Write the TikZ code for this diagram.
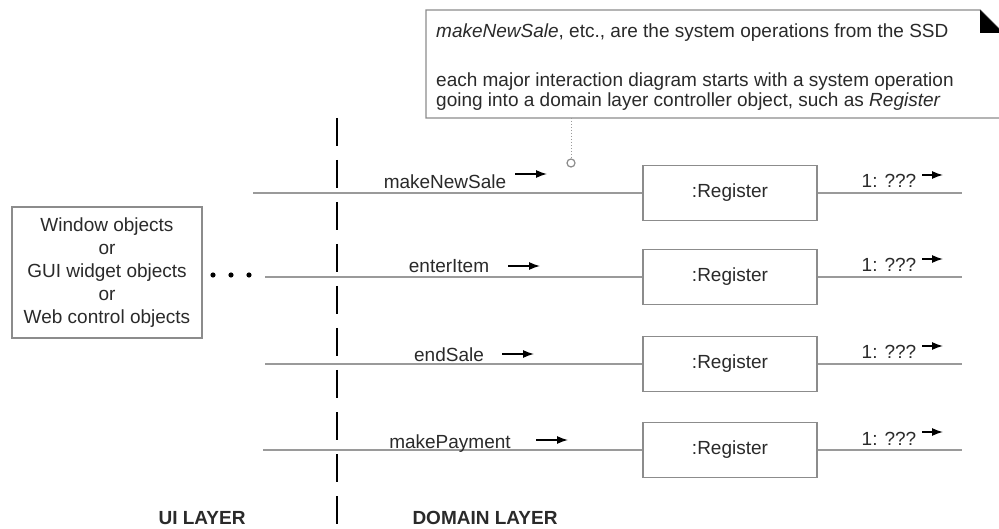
\documentclass[tikz,border=0pt]{standalone}
\usepackage{fontspec}
\setmainfont{Liberation Sans}
\usetikzlibrary{arrows.meta}
\definecolor{linegray}{HTML}{9A9A9A}
\definecolor{boxgray}{HTML}{8C8C8C}
\definecolor{txt}{HTML}{2A2A2A}
\begin{document}
\begin{tikzpicture}[x=1pt,y=-1pt,
  lbl/.style={font=\fontsize{19}{23}\selectfont, text=txt, inner sep=0pt, anchor=base},
  notelbl/.style={font=\fontsize{19}{23}\selectfont, text=txt, inner sep=0pt, anchor=base west},
  regbox/.style={draw=boxgray, line width=1.4pt, minimum width=174pt, minimum height=55pt, inner sep=0pt, font=\fontsize{19}{23}\selectfont, text=txt},
  conn/.style={draw=linegray, line width=1.4pt},
  msgarrow/.style={-{Latex[length=11pt,width=8pt]}, line width=1.3pt, black},
  layer/.style={font=\fontsize{19}{23}\selectfont\bfseries, text=txt, inner sep=0pt, anchor=base}]
\useasboundingbox (0,0) rectangle (999,529);
\fill[white] (0,0) rectangle (999,529);

% note
\draw[boxgray, line width=1.4pt] (426,10) -- (980,10) -- (1003,33) -- (1003,118) -- (426,118) -- cycle;
\fill[black] (980,10) -- (980,33) -- (1003,33) -- cycle;
\node[notelbl] (note1) at (436,38) {\textit{makeNewSale}, etc., are the system operations from the SSD};
\node[notelbl] (note2) at (436,87) {each major interaction diagram starts with a system operation};
\node[notelbl] (note3) at (436,107) {going into a domain layer controller object, such as \textit{Register}};
\coordinate (notebottom) at (571,118);
\node[circle, draw=boxgray, fill=white, line width=1.2pt, minimum size=8pt, inner sep=0pt] (pin) at (571,163) {};
\draw[linegray, line width=1pt, dotted] (notebottom) -- (pin);

% layer separator
\coordinate (septop) at (337,118);
\coordinate (sepbot) at (337,524);
\draw[black, line width=2.6pt, dash pattern=on 28pt off 14pt] (septop) -- (sepbot);

% UI box
\node[draw=boxgray, line width=1.4pt, minimum width=190pt, minimum height=131pt, inner sep=0pt, align=center,
      font=\fontsize{19}{23}\selectfont, text=txt] (ui) at (107,272.5)
  {Window objects\\or\\GUI widget objects\\or\\Web control objects};
\foreach \dx in {213,231,249} \fill[black] (\dx,275) circle (2.6pt);

% rows
\foreach \i/\y/\sx/\msg/\mx/\ax/\ay/\mb in {
  1/193/253/makeNewSale/445/515/174/189,
  2/277/265/enterItem/449/508/266/273,
  3/364/265/endSale/449/502/354/362,
  4/450/263/makePayment/450/536/440/448}{
  \node[regbox] (r\i) at (730,\y) {:Register};
  \coordinate (s\i) at (\sx,\y);
  \coordinate (e\i) at (962,\y);
  \draw[conn] (s\i) -- (r\i);
  \draw[conn] (r\i) -- (e\i);
  \node[lbl] (m\i) at (\mx,\mb) {\msg};
  \coordinate (ma\i) at (\ax,\ay);
  \coordinate (mb\i) at ({\ax+32},\ay);
  \draw[msgarrow] (ma\i) -- (mb\i);
  \node[lbl] (q\i) at (889,{\y-5}) {1: ???};
  \coordinate (qa\i) at (922,{\y-18});
  \coordinate (qb\i) at (943,{\y-18});
  \draw[msgarrow] (qa\i) -- (qb\i);
}

% layer labels
\node[layer] (uilayer) at (202,524) {UI LAYER};
\node[layer] (domlayer) at (485,524) {DOMAIN LAYER};
\end{tikzpicture}
\end{document}
